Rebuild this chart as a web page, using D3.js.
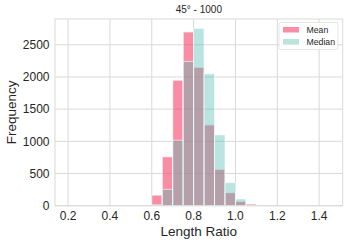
<!DOCTYPE html>
<html><head><meta charset="utf-8">
<script src="https://cdn.jsdelivr.net/npm/d3@7/dist/d3.min.js"></script>
<style>body{margin:0;background:#fff}text{font-family:"Liberation Sans",Arial,sans-serif;fill:#262626}</style>
</head><body><svg id="c" width="349" height="245"></svg>
<script>
const binStarts = [0.60,0.65,0.70,0.75,0.80,0.85,0.90,0.95,1.00,1.05];
const binWidth = 0.05;
const meanCounts = [165,760,1950,2700,2150,1255,565,202,67,26];
const medianCounts = [15,254,1017,2241,2754,2049,1100,358,104,4];
const xTicks = [0.2,0.4,0.6,0.8,1.0,1.2,1.4];
const yTicks = [0,500,1000,1500,2000,2500];
const title = "45° - 1000";
const xLabel = "Length Ratio", yLabel = "Frequency";
const seriesNames = ["Mean","Median"];

const svg = d3.select("#c");
const L=55, R=342.7, T=19, B=205.7;
const x = d3.scaleLinear().domain([0.1375,1.5125]).range([L,R]);
const y = d3.scaleLinear().domain([0,2900]).range([B,T]);
const grid="#d9d9d9";
const g = svg.append("g");
xTicks.forEach(t=>g.append("line").attr("x1",x(t)).attr("x2",x(t)).attr("y1",T).attr("y2",B).attr("stroke",grid).attr("stroke-width",1));
yTicks.forEach(t=>g.append("line").attr("y1",y(t)).attr("y2",y(t)).attr("x1",L).attr("x2",R).attr("stroke",grid).attr("stroke-width",1));

function bars(data, fill, op){
  svg.append("g").selectAll("rect").data(data).join("rect")
    .attr("x",(d,i)=>x(binStarts[i])).attr("width",x(binWidth)-x(0))
    .attr("y",d=>y(d)).attr("height",d=>y(0)-y(d))
    .attr("fill",fill).attr("fill-opacity",op)
    .attr("stroke","#fff").attr("stroke-opacity",op+0.2).attr("stroke-width",1);
}
bars(meanCounts,"#f54167",0.6);
bars(medianCounts,"#50bbb1",0.4);

svg.append("rect").attr("x",L).attr("y",T).attr("width",R-L).attr("height",B-T).attr("fill","none").attr("stroke",grid).attr("stroke-width",1);

const xa = svg.append("g");
xTicks.forEach(t=>xa.append("text").attr("x",x(t)).attr("y",220).attr("text-anchor","middle").attr("font-size","12px").text(d3.format(".1f")(t)));
yTicks.forEach(t=>xa.append("text").attr("x",49.5).attr("y",y(t)+4.2).attr("text-anchor","end").attr("font-size","12px").text(t));
svg.append("text").attr("x",(L+R)/2).attr("y",236).attr("text-anchor","middle").attr("font-size","13.5px").text(xLabel);
svg.append("text").attr("transform",`translate(16,${(T+B)/2}) rotate(-90)`).attr("text-anchor","middle").attr("font-size","13.5px").text(yLabel);
svg.append("text").attr("x",(L+R)/2).attr("y",13).attr("text-anchor","middle").attr("font-size","10px").text(title);

const lg = svg.append("g");
lg.append("rect").attr("x",279).attr("y",22.5).attr("width",59).attr("height",27).attr("rx",2).attr("fill","#fff").attr("fill-opacity",0.8).attr("stroke","#e0e0e0").attr("stroke-width",0.8);
const lc=[["#f54167",0.6],["#50bbb1",0.4]];
seriesNames.forEach((n,i)=>{
  const cy = 30+i*12;
  lg.append("rect").attr("x",283).attr("y",cy-3).attr("width",16).attr("height",5.5).attr("fill",lc[i][0]).attr("fill-opacity",lc[i][1]);
  lg.append("text").attr("x",306.5).attr("y",cy+3).attr("font-size","8.7px").text(n);
});
</script></body></html>
